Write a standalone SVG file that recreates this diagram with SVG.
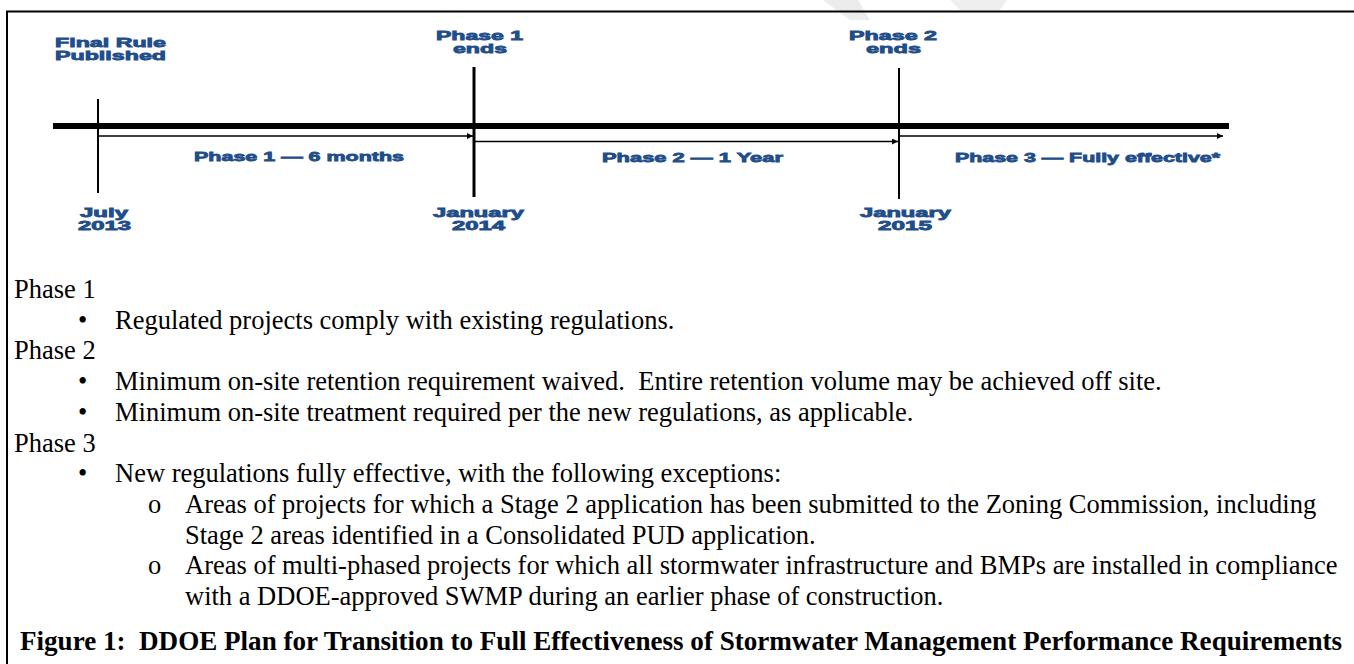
<svg xmlns="http://www.w3.org/2000/svg" width="1354" height="664" viewBox="0 0 1354 664">
<style>
.lbl{font-family:"Liberation Sans",Arial,sans-serif;font-weight:bold;font-size:13px;fill:#1f4e8a;stroke:#1f4e8a;stroke-width:0.8}
.body{font-family:"Liberation Serif","Times New Roman",serif;font-size:26.5px;fill:#000}
.cap{font-family:"Liberation Serif","Times New Roman",serif;font-size:27px;font-weight:bold;fill:#000}
.ln{stroke:#000;fill:none}
</style>
<defs>
<marker id="ah" viewBox="0 0 10 10" refX="10" refY="5" markerWidth="8" markerHeight="6" markerUnits="userSpaceOnUse" orient="auto">
<path d="M0,0 L10,5 L0,10 z" fill="#000"/>
</marker>
</defs>
<rect width="1354" height="664" fill="#fff"/>
<polygon points="823,0 858,0 870,20 850,20" fill="#ececec"/>
<polygon points="950,0 1007,0 1000,10 960,10" fill="#efefef"/>
<path d="M7,680 L7,11.5 L1360,11.5" stroke="#000" stroke-width="2" fill="none"/>

<g id="connectors">
<line class="ln" x1="53" y1="126" x2="1229" y2="126" stroke-width="6"/>
<line class="ln" x1="98" y1="136" x2="473" y2="136" stroke-width="1.6" marker-end="url(#ah)"/>
<line class="ln" x1="474" y1="141.5" x2="898" y2="141.5" stroke-width="1.6" marker-end="url(#ah)"/>
<line class="ln" x1="899" y1="136" x2="1223" y2="136" stroke-width="1.6" marker-end="url(#ah)"/>
</g>

<g id="m-final">
<line class="ln" x1="98" y1="99" x2="98" y2="193" stroke-width="2"/>
<text class="lbl" x="55" y="47" textLength="111" lengthAdjust="spacingAndGlyphs">Final Rule</text>
<text class="lbl" x="55" y="60" textLength="111" lengthAdjust="spacingAndGlyphs">Published</text>
<text class="lbl" x="104" y="217" text-anchor="middle" textLength="48" lengthAdjust="spacingAndGlyphs">July</text>
<text class="lbl" x="104.5" y="230" text-anchor="middle" textLength="53" lengthAdjust="spacingAndGlyphs">2013</text>
</g>

<g id="m-phase1">
<line class="ln" x1="474" y1="67" x2="474" y2="197" stroke-width="3"/>
<text class="lbl" x="479.5" y="40" text-anchor="middle" textLength="87" lengthAdjust="spacingAndGlyphs">Phase 1</text>
<text class="lbl" x="480" y="53" text-anchor="middle" textLength="54" lengthAdjust="spacingAndGlyphs">ends</text>
<text class="lbl" x="478.5" y="217" text-anchor="middle" textLength="91" lengthAdjust="spacingAndGlyphs">January</text>
<text class="lbl" x="478.5" y="230" text-anchor="middle" textLength="53" lengthAdjust="spacingAndGlyphs">2014</text>
</g>

<g id="m-phase2">
<line class="ln" x1="899" y1="68" x2="899" y2="199" stroke-width="2"/>
<text class="lbl" x="893" y="40" text-anchor="middle" textLength="88" lengthAdjust="spacingAndGlyphs">Phase 2</text>
<text class="lbl" x="893.5" y="53" text-anchor="middle" textLength="55" lengthAdjust="spacingAndGlyphs">ends</text>
<text class="lbl" x="905.5" y="217" text-anchor="middle" textLength="91" lengthAdjust="spacingAndGlyphs">January</text>
<text class="lbl" x="905" y="230" text-anchor="middle" textLength="54" lengthAdjust="spacingAndGlyphs">2015</text>
</g>

<g id="period1">
<text class="lbl" x="194" y="161" textLength="210" lengthAdjust="spacingAndGlyphs">Phase 1 — 6 months</text>
</g>
<g id="period2">
<text class="lbl" x="602" y="162" textLength="181" lengthAdjust="spacingAndGlyphs">Phase 2 — 1 Year</text>
</g>
<g id="period3">
<text class="lbl" x="955" y="162" textLength="265" lengthAdjust="spacingAndGlyphs">Phase 3 — Fully effective*</text>
</g>

<g id="notes">
<text class="body" x="14" y="298">Phase 1</text>
<text class="body" x="78" y="328.7">•</text>
<text class="body" x="115" y="328.7">Regulated projects comply with existing regulations.</text>
<text class="body" x="14" y="359.4">Phase 2</text>
<text class="body" x="78" y="390">•</text>
<text class="body" x="115" y="390" xml:space="preserve">Minimum on-site retention requirement waived.  Entire retention volume may be achieved off site.</text>
<text class="body" x="78" y="420.8">•</text>
<text class="body" x="115" y="420.8">Minimum on-site treatment required per the new regulations, as applicable.</text>
<text class="body" x="14" y="451.5">Phase 3</text>
<text class="body" x="78" y="482">•</text>
<text class="body" x="115" y="482">New regulations fully effective, with the following exceptions:</text>
<text class="body" x="148" y="513">o</text>
<text class="body" x="185" y="513">Areas of projects for which a Stage 2 application has been submitted to the Zoning Commission, including</text>
<text class="body" x="185" y="543.6">Stage 2 areas identified in a Consolidated PUD application.</text>
<text class="body" x="148" y="574">o</text>
<text class="body" x="185" y="574">Areas of multi-phased projects for which all stormwater infrastructure and BMPs are installed in compliance</text>
<text class="body" x="185" y="605">with a DDOE-approved SWMP during an earlier phase of construction.</text>
<text class="cap" x="20" y="650" xml:space="preserve" textLength="1322" lengthAdjust="spacingAndGlyphs">Figure 1:  DDOE Plan for Transition to Full Effectiveness of Stormwater Management Performance Requirements</text>
</g>
</svg>
